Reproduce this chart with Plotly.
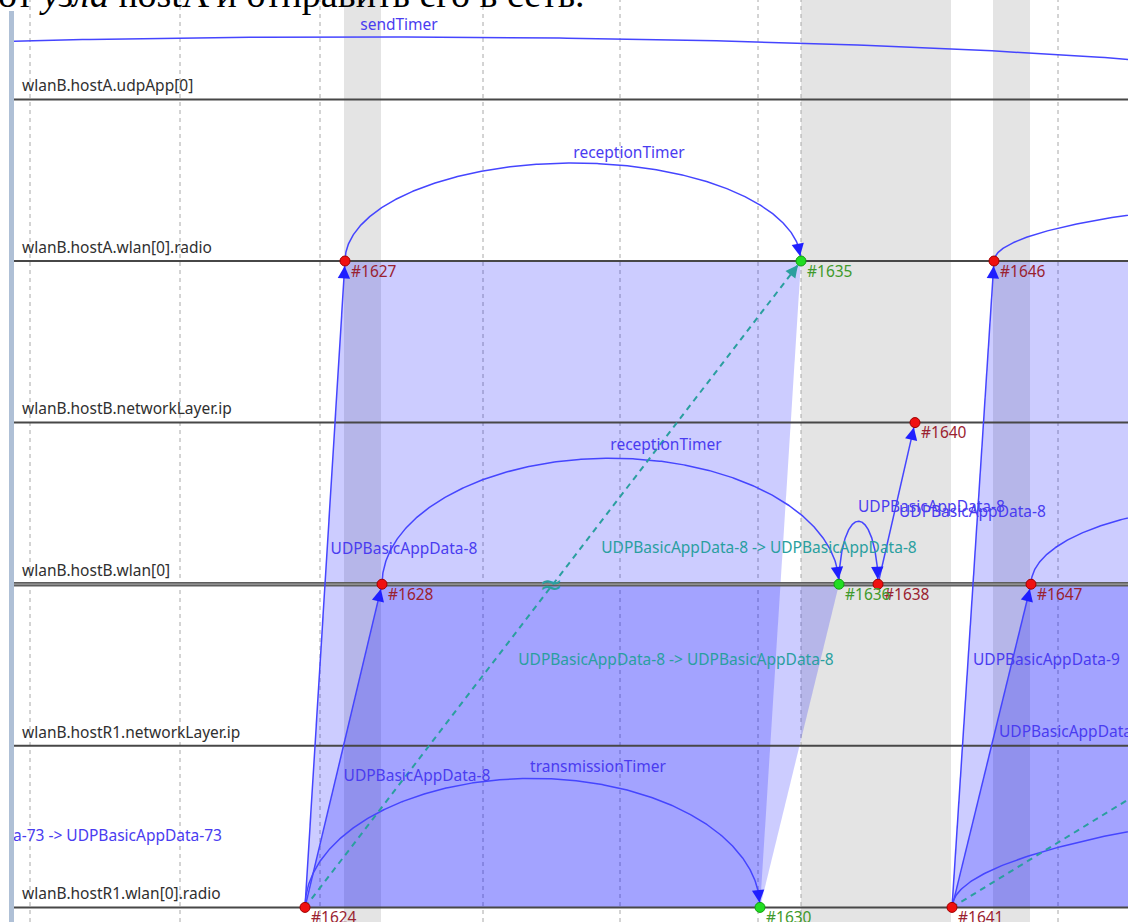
import numpy as np
import plotly.graph_objects as go

W, H = 1128, 922
TOP_PX = 11          # chart area starts below the heading
LEFT_PX = 14         # chart area starts right of the left bar
ROW0_PX, ROW_PX = 99.4, 161.6

heading = "от <i>узла</i> hostA и отправить его в сеть."

axis_names = [
    "wlanB.hostA.udpApp[0]",
    "wlanB.hostA.wlan[0].radio",
    "wlanB.hostB.networkLayer.ip",
    "wlanB.hostB.wlan[0]",
    "wlanB.hostR1.networkLayer.ip",
    "wlanB.hostR1.wlan[0].radio",
]

# events: id, (compressed) time, axis row, kind
event_ids = [1624, 1627, 1628, 1630, 1635, 1636, 1638, 1640, 1641, 1646, 1647]
event_times = [305, 345, 382, 760, 801, 839, 878, 915, 952, 994, 1031]
event_rows = [5, 1, 3, 5, 1, 3, 3, 2, 5, 1, 3]
event_kinds = ["r", "r", "r", "g", "g", "g", "r", "r", "r", "r", "r"]

grid_times = [30, 180, 320, 483, 620, 758, 801, 1058]
band_starts = [344, 801, 993]
band_ends = [381, 951, 1030]

# transmission shading: send row/times -> receive row/times
shade_send_row = [5, 5, 5, 5]
shade_recv_row = [1, 3, 1, 3]
shade_send_start = [305, 305, 952, 952]
shade_send_end = [760, 760, 1407, 1407]
shade_recv_start = [345, 382, 994, 1031]
shade_recv_end = [801, 839, 1450, 1488]

# straight message sends (from event -> to event)
msg_from = [1624, 1624, 1638, 1641, 1641]
msg_to = [1627, 1628, 1640, 1646, 1647]

# self messages drawn as arcs: row, start time, end time, arc height (px), arrow at end
arc_rows = [5, 1, 3, 3, 0, 5, 1, 3]
arc_start = [305, 345, 382, 839, -618, 952, 994, 1031]
arc_end = [760, 801, 839, 878, 1358, 2952, 2194, 1471]
arc_height = [129, 98, 126, 63, 62.5, 134, 73, 80]
arc_arrow = [True, True, True, True, False, False, False, False]

# dashed causal links: start (time,row) -> end (time,row)
dash_t0 = [305, 952]
dash_r0 = [5, 5]
dash_t1 = [801, 1480]
dash_r1 = [1, 3]
dash_arrow = [True, False]

# message labels
lbl_text = ["sendTimer", "receptionTimer", "receptionTimer", "transmissionTimer",
            "UDPBasicAppData-8", "UDPBasicAppData-8",
            "UDPBasicAppData-8", "UDPBasicAppData-8",
            "UDPBasicAppData-9", "UDPBasicAppData-9",
            "UDPBasicAppData-73 -> UDPBasicAppData-73"]
lbl_x = [399, 629, 666, 598, 404, 417, 858, 899, 973, 999, 222]
lbl_y = [26, 154, 446, 768, 550, 777, 508, 513, 661, 733, 837]
lbl_anchor = ["c", "c", "c", "c", "c", "c", "l", "l", "l", "l", "r"]

teal_text = ["UDPBasicAppData-8 -> UDPBasicAppData-8", "UDPBasicAppData-8 -> UDPBasicAppData-8"]
teal_x = [759, 676]
teal_y = [549, 661]

BLUE_LINE = "#4545ff"
BLUE_TEXT = "#4a3cf0"
BLUE_HEAD = "#1f1fff"
TEAL = "#2a9f9f"
SHADE = "rgba(0,0,255,0.2)"
FONT = "Noto Sans"
FS = 15.5


def ypx(r):
    return ROW0_PX + ROW_PX * r


def row_of(px):
    return (px - ROW0_PX) / ROW_PX


ev = {i: (t, r) for i, t, r in zip(event_ids, event_times, event_rows)}

fig = go.Figure()
shapes = []
annotations = []

# grey bands
for a, b in zip(band_starts, band_ends):
    shapes.append(dict(type="rect", xref="x", yref="paper", x0=a, x1=b, y0=0, y1=1,
                       fillcolor="#e4e4e4", line_width=0, layer="below"))
# dashed grid lines
for g in grid_times:
    shapes.append(dict(type="line", xref="x", yref="paper", x0=g, x1=g, y0=0, y1=1,
                       line=dict(color="#a8a8a8", width=1, dash="4px,4px"), layer="below"))
# left bar
shapes.append(dict(type="rect", xref="paper", yref="paper", x0=9 / W, x1=LEFT_PX / W,
                   y0=0, y1=(H - TOP_PX) / H, fillcolor="#afc0d6", line_width=0))

# shading polygons
for ss, se, rs, re_, sr, rr in zip(shade_send_start, shade_send_end, shade_recv_start,
                                   shade_recv_end, shade_send_row, shade_recv_row):
    fig.add_trace(go.Scatter(x=[ss, rs, re_, se, ss], y=[sr, rr, rr, sr, sr], mode="lines",
                             fill="toself", fillcolor=SHADE, line=dict(width=0),
                             hoverinfo="skip", showlegend=False))

# axis lines
for i, name in enumerate(axis_names):
    if i == 3:
        fig.add_trace(go.Scatter(x=[LEFT_PX, W + 50], y=[i, i], mode="lines",
                                 line=dict(color="#5e5e5e", width=4.5), hoverinfo="skip",
                                 showlegend=False))
        fig.add_trace(go.Scatter(x=[LEFT_PX, W + 50], y=[i, i], mode="lines",
                                 line=dict(color="#a0a0a0", width=1.2), hoverinfo="skip",
                                 showlegend=False))
    else:
        fig.add_trace(go.Scatter(x=[LEFT_PX, W + 50], y=[i, i], mode="lines",
                                 line=dict(color="#474747", width=2), hoverinfo="skip",
                                 showlegend=False))


def add_arrow(tip_t, tip_r, tail_t, tail_r, color, standoff=5):
    annotations.append(dict(x=tip_t, y=tip_r, ax=tail_t, ay=tail_r, xref="x", yref="y",
                            axref="x", ayref="y", text="", showarrow=True, arrowhead=2,
                            arrowsize=1.65, arrowwidth=1.5, arrowcolor=color,
                            standoff=standoff))


# straight messages
for f, t in zip(msg_from, msg_to):
    (t0, r0), (t1, r1) = ev[f], ev[t]
    fig.add_trace(go.Scatter(x=[t0, t1], y=[r0, r1], mode="lines",
                             line=dict(color=BLUE_LINE, width=1.5), hoverinfo="skip",
                             showlegend=False))
    dx, dyp = t1 - t0, ypx(r1) - ypx(r0)
    L = np.hypot(dx, dyp)
    add_arrow(t1, r1, t1 - 16 * dx / L, row_of(ypx(r1) - 16 * dyp / L), BLUE_HEAD)

# arcs
for r, s, e, h, arr in zip(arc_rows, arc_start, arc_end, arc_height, arc_arrow):
    th = np.linspace(0, np.pi, 400)
    cx, a = (s + e) / 2, (e - s) / 2
    xs = cx - a * np.cos(th)
    ys = r - (h / ROW_PX) * np.sin(th)
    fig.add_trace(go.Scatter(x=xs, y=ys, mode="lines", line=dict(color=BLUE_LINE, width=1.5),
                             hoverinfo="skip", showlegend=False))
    if arr:
        d = np.arcsin(min(1.0, 16 / h))
        add_arrow(e, r, cx + a * np.cos(d), r - 16 / ROW_PX, BLUE_HEAD)

# dashed links
for t0, r0, t1, r1, arr in zip(dash_t0, dash_r0, dash_t1, dash_r1, dash_arrow):
    fig.add_trace(go.Scatter(x=[t0, t1], y=[r0, r1], mode="lines",
                             line=dict(color=TEAL, width=2, dash="6px,5px"), hoverinfo="skip",
                             showlegend=False))
    if arr:
        dx, dyp = t1 - t0, ypx(r1) - ypx(r0)
        L = np.hypot(dx, dyp)
        add_arrow(t1, r1, t1 - 16 * dx / L, row_of(ypx(r1) - 16 * dyp / L), TEAL)

# split marker on the dashed link where it crosses hostB.wlan[0]
t0, r0, t1, r1 = dash_t0[0], dash_r0[0], dash_t1[0], dash_r1[0]
cross_t = t0 + (t1 - t0) * (3 - r0) / (r1 - r0)
fig.add_trace(go.Scatter(x=[cross_t - 2], y=[3 + 3 / ROW_PX], mode="text", text=["≈"],
                         textfont=dict(family="DejaVu Sans", size=28, color=TEAL),
                         textposition="middle center", hoverinfo="skip", showlegend=False))

# event dots
for kind, fill, edge in [("r", "#f01010", "#a00000"), ("g", "#22dd22", "#10a010")]:
    xs = [t for t, k in zip(event_times, event_kinds) if k == kind]
    ys = [r for r, k in zip(event_rows, event_kinds) if k == kind]
    fig.add_trace(go.Scatter(x=xs, y=ys, mode="markers",
                             marker=dict(size=10, color=fill, line=dict(color=edge, width=1)),
                             hoverinfo="skip", showlegend=False))

# event labels
for kind, col in [("r", "#9a2230"), ("g", "#3f9a2c")]:
    xs = [t + 6 for t, k in zip(event_times, event_kinds) if k == kind]
    ys = [r + 12 / ROW_PX for r, k in zip(event_rows, event_kinds) if k == kind]
    tx = ["#%d" % i for i, k in zip(event_ids, event_kinds) if k == kind]
    fig.add_trace(go.Scatter(x=xs, y=ys, mode="text", text=tx, textposition="middle right",
                             textfont=dict(family=FONT, size=FS, color=col),
                             hoverinfo="skip", showlegend=False))

# axis names
fig.add_trace(go.Scatter(x=[22] * len(axis_names),
                         y=[i - 12 / ROW_PX for i in range(len(axis_names))],
                         mode="text", text=axis_names, textposition="middle right",
                         textfont=dict(family=FONT, size=FS, color="#303030"),
                         hoverinfo="skip", showlegend=False))

# message labels
pos = {"c": "middle center", "l": "middle right", "r": "middle left"}
for anc in ["c", "l", "r"]:
    idx = [i for i, a in enumerate(lbl_anchor) if a == anc]
    fig.add_trace(go.Scatter(x=[lbl_x[i] for i in idx], y=[row_of(lbl_y[i]) for i in idx],
                             mode="text", text=[lbl_text[i] for i in idx],
                             textposition=pos[anc],
                             textfont=dict(family=FONT, size=FS, color=BLUE_TEXT),
                             hoverinfo="skip", showlegend=False))
fig.add_trace(go.Scatter(x=teal_x, y=[row_of(v) for v in teal_y], mode="text", text=teal_text,
                         textposition="middle center",
                         textfont=dict(family=FONT, size=FS, color=TEAL),
                         hoverinfo="skip", showlegend=False))

# heading (partially cut off at the top)
annotations.append(dict(xref="paper", yref="paper", x=-4 / W, y=1 + 6 / H, xanchor="left",
                        yanchor="middle", text=heading, showarrow=False,
                        font=dict(family="Liberation Serif", size=38, color="#000000")))

fig.update_layout(
    width=W, height=H, autosize=False,
    margin=dict(l=0, r=0, t=0, b=0),
    paper_bgcolor="white", plot_bgcolor="white",
    shapes=shapes, annotations=annotations, showlegend=False,
    xaxis=dict(domain=[LEFT_PX / W, 1], range=[LEFT_PX, W], visible=False, fixedrange=True),
    yaxis=dict(domain=[0, (H - TOP_PX) / H], range=[row_of(H), row_of(TOP_PX)],
               visible=False, fixedrange=True),
)

fig.write_html("out.html", config={"displayModeBar": False},
               post_script="document.body.style.margin='0px';")
